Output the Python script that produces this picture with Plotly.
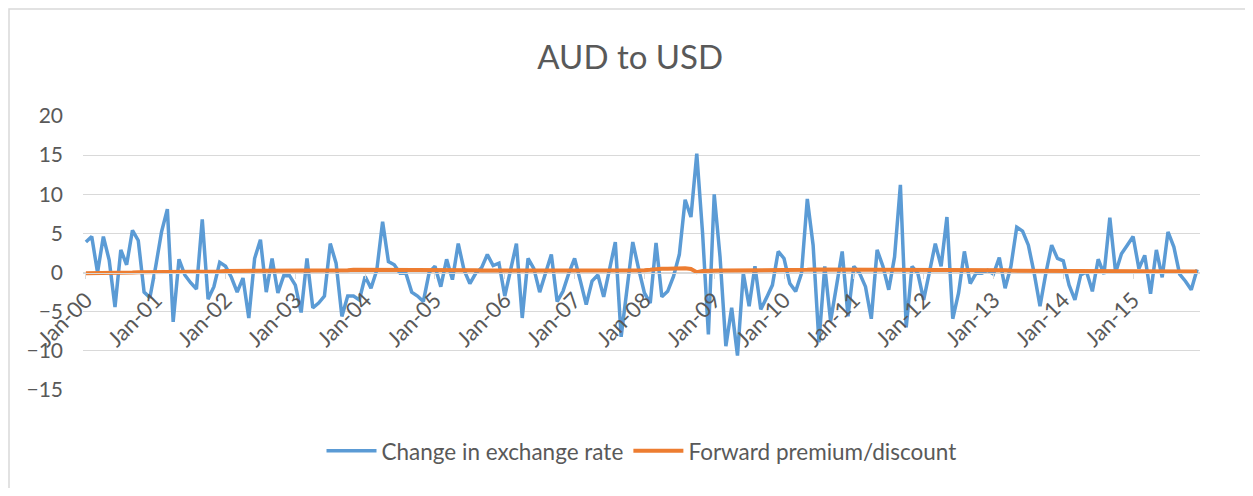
import pandas as pd
import plotly.graph_objects as go

# monthly categories Jan-00 .. Dec-15
months = pd.date_range("2000-01-01", periods=192, freq="MS").strftime("%b-%y").tolist()
tick_labels = [f"Jan-{y:02d}" for y in range(0, 16)]

change_rate = [
    3.9, 4.6, 0.0, 4.6, 1.6, -4.4, 2.9, 1.0, 5.4, 4.1, -2.5, -3.2,
    0.8, 5.2, 8.1, -6.3, 1.7, -0.3, -1.3, -2.1, 6.8, -3.4, -1.8, 1.3,
    0.8, -0.6, -2.5, -0.7, -5.8, 1.8, 4.2, -2.5, 1.8, -2.6, -0.4, -0.4,
    -1.6, -5.1, 1.8, -4.5, -3.9, -3.0, 3.7, 1.2, -5.6, -3.0, -3.0, -3.5,
    -0.5, -2.0, 0.3, 6.5, 1.4, 1.0, -0.1, -0.1, -2.5, -3.0, -3.7, 0.0,
    0.8, -1.8, 1.7, -0.9, 3.7, 0.3, -1.4, -0.1, 0.6, 2.3, 0.9, 1.2,
    -3.0, 0.5, 3.7, -5.8, 1.8, 0.5, -2.5, -0.1, 2.3, -3.7, -2.4, -0.1,
    1.8, -1.1, -4.1, -1.1, -0.3, -3.1, 0.5, 3.9, -8.2, -2.2, 3.9, 0.5,
    -2.6, -3.9, 3.8, -3.1, -2.4, -0.5, 2.3, 9.3, 7.1, 15.2, 5.0, -7.9,
    10.0, 2.0, -9.4, -4.5, -10.6, -0.1, -4.3, 0.8, -4.7, -3.2, -1.6, 2.7,
    1.8, -1.4, -2.4, -0.1, 9.4, 3.5, -8.9, 0.8, -6.2, -1.8, 2.7, -5.6,
    0.8, -0.1, -1.8, -5.9, 2.9, 0.8, -2.2, 2.0, 11.2, -7.0, 0.8, -0.1,
    -3.5, 0.1, 3.7, 0.8, 7.1, -5.9, -2.6, 2.7, -1.4, -0.1, -0.1, 0.3,
    -0.2, 1.9, -2.0, 0.8, 5.8, 5.3, 3.5, -0.1, -4.3, -0.1, 3.5, 1.8,
    1.5, -1.6, -3.5, -0.3, 0.1, -2.4, 1.7, -0.2, 7.0, 0.0, 2.4, 3.5,
    4.6, 0.5, 2.2, -2.7, 2.9, -0.6, 5.2, 3.3, -0.2, -1.1, -2.2, 0.4,
]

forward_premium = [
    -0.1, -0.1, -0.1, -0.05, 0.0, 0.0, 0.0, 0.0, 0.0, 0.05, 0.05, 0.05,
    0.1, 0.1, 0.1, 0.05, 0.05, 0.05, 0.05, 0.1, 0.1, 0.1, 0.1, 0.15,
    0.2, 0.2, 0.2, 0.25, 0.25, 0.25, 0.25, 0.25, 0.25, 0.25, 0.25, 0.25,
    0.25, 0.25, 0.3, 0.3, 0.3, 0.3, 0.25, 0.25, 0.3, 0.3, 0.35, 0.35,
    0.35, 0.35, 0.3, 0.3, 0.35, 0.4, 0.4, 0.4, 0.35, 0.35, 0.35, 0.35,
    0.35, 0.3, 0.3, 0.3, 0.3, 0.3, 0.3, 0.3, 0.25, 0.25, 0.25, 0.25,
    0.2, 0.2, 0.2, 0.2, 0.2, 0.2, 0.2, 0.2, 0.2, 0.2, 0.2, 0.2,
    0.2, 0.2, 0.2, 0.2, 0.2, 0.2, 0.2, 0.25, 0.25, 0.25, 0.3, 0.3,
    0.3, 0.35, 0.45, 0.5, 0.5, 0.55, 0.55, 0.55, 0.45, 0.05, 0.2, 0.25,
    0.25, 0.25, 0.25, 0.25, 0.25, 0.25, 0.25, 0.25, 0.3, 0.3, 0.35, 0.35,
    0.35, 0.35, 0.35, 0.35, 0.35, 0.4, 0.4, 0.4, 0.4, 0.4, 0.4, 0.4,
    0.4, 0.4, 0.4, 0.4, 0.4, 0.4, 0.4, 0.4, 0.4, 0.4, 0.35, 0.35,
    0.35, 0.35, 0.35, 0.35, 0.3, 0.3, 0.3, 0.3, 0.3, 0.3, 0.3, 0.3,
    0.3, 0.3, 0.3, 0.25, 0.25, 0.25, 0.25, 0.2, 0.2, 0.2, 0.2, 0.2,
    0.2, 0.2, 0.2, 0.2, 0.2, 0.2, 0.2, 0.2, 0.2, 0.2, 0.2, 0.2,
    0.2, 0.2, 0.2, 0.15, 0.15, 0.15, 0.15, 0.15, 0.15, 0.15, 0.15, 0.15,
]

_FONT = "Lato, 'Liberation Sans', sans-serif"
_GREY = "#595959"
_GRID = "#d9d9d9"

# the page body has an 8px margin, so the figure sits at (8, 8)
W, H = 1237, 480

fig = go.Figure()
fig.add_trace(
    go.Scatter(
        x=months,
        y=change_rate,
        mode="lines",
        name="Change in exchange rate",
        line=dict(color="#5B9BD5", width=3.5),
    )
)
fig.add_trace(
    go.Scatter(
        x=months,
        y=forward_premium,
        mode="lines",
        name="Forward premium/discount",
        line=dict(color="#ED7D31", width=4),
    )
)

fig.update_layout(
    width=W,
    height=H,
    paper_bgcolor="white",
    plot_bgcolor="white",
    margin=dict(l=75, r=45, t=108, b=98),
    font=dict(family=_FONT, color=_GREY, size=20),
    title=dict(
        text="AUD to USD",
        x=0.503,
        xanchor="center",
        y=1 - 49 / H,
        yanchor="middle",
        font=dict(size=33, color=_GREY),
    ),
    xaxis=dict(
        type="category",
        categoryorder="array",
        categoryarray=months,
        range=[-0.5, 191.5],
        anchor="free",
        position=15 / 35,
        tickmode="array",
        tickvals=tick_labels,
        ticktext=tick_labels,
        tickangle=-45,
        ticks="outside",
        ticklen=5,
        tickcolor=_GRID,
        showline=True,
        linecolor=_GRID,
        linewidth=1,
        showgrid=False,
        zeroline=False,
        tickfont=dict(size=22, color=_GREY),
    ),
    yaxis=dict(
        range=[-15, 20],
        tickmode="array",
        tickvals=[-15, -10, -5, 0, 5, 10, 15, 20],
        showgrid=True,
        gridcolor=_GRID,
        gridwidth=1,
        zeroline=False,
        showline=False,
        ticks="",
        ticklabelstandoff=19,
        tickfont=dict(size=21, color=_GREY),
    ),
    legend=dict(
        orientation="h",
        x=0.5,
        xanchor="center",
        y=-0.223,
        yanchor="middle",
        font=dict(size=22.5, color=_GREY),
        itemwidth=50,
        tracegroupgap=0,
    ),
    showlegend=True,
    shapes=[
        dict(
            type="rect",
            xref="paper",
            yref="paper",
            x0=-74 / 1117,
            x1=1.2,
            y0=-1.0,
            y1=(274 + 107) / 274,
            line=dict(color=_GRID, width=1.5),
            fillcolor="rgba(0,0,0,0)",
            layer="below",
        )
    ],
)

fig.write_html("out.html")
